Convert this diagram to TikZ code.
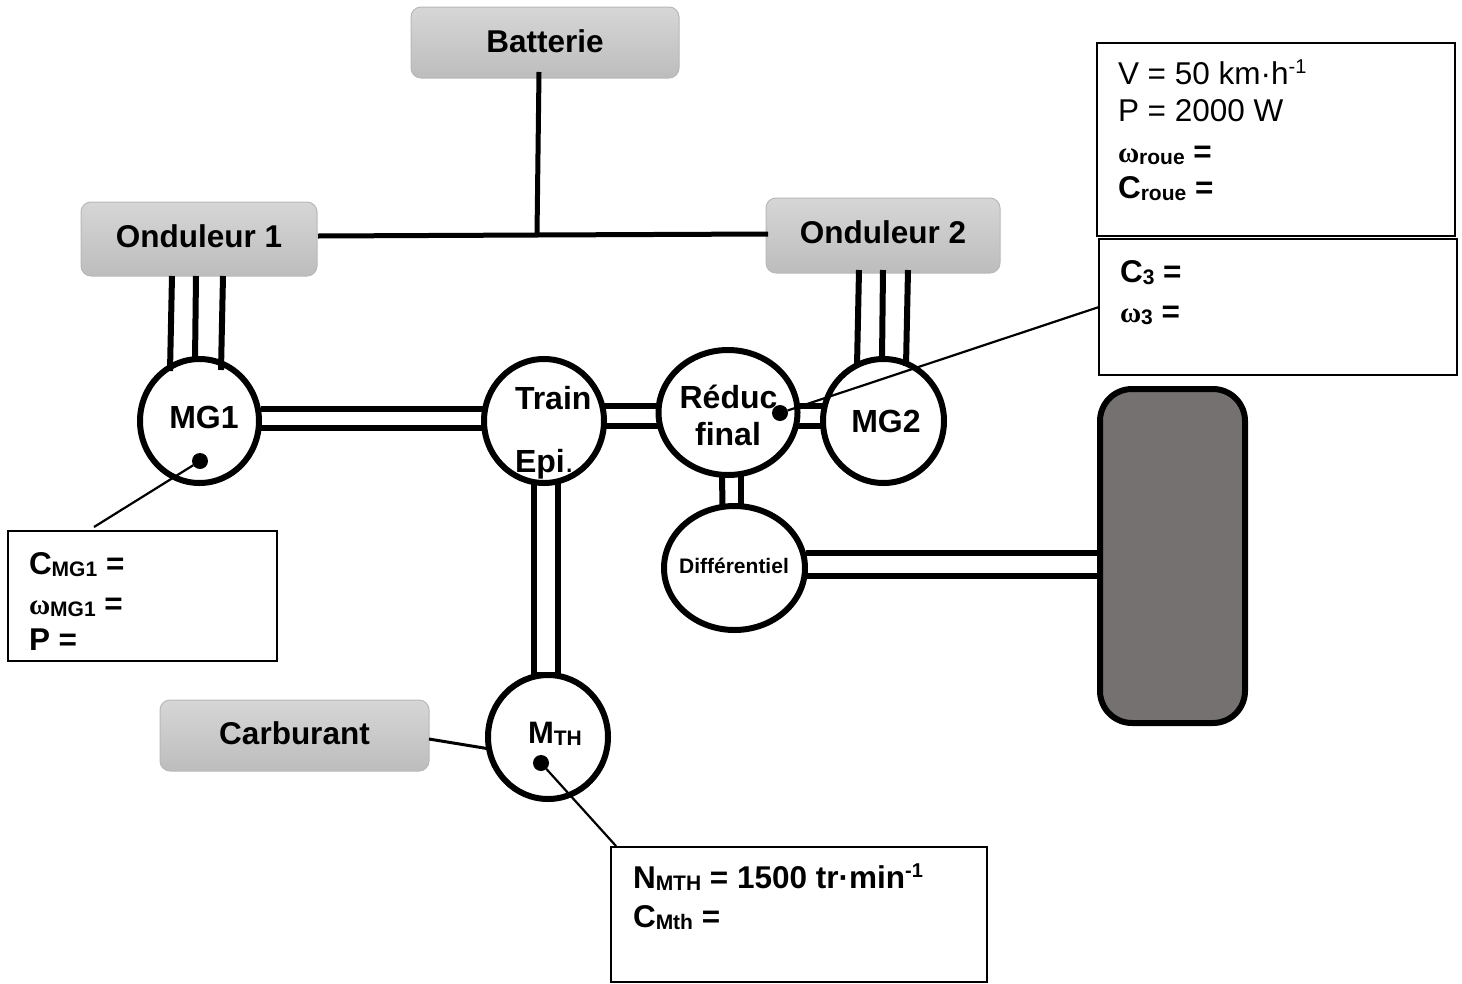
\documentclass[tikz,border=0pt]{standalone}
\usepackage{fontspec}
\usetikzlibrary{shapes.geometric}
\setmainfont{Liberation Sans}
\newfontfamily\omgfont{Liberation Serif}
\definecolor{tyregray}{HTML}{767171}
\newcommand{\mainsize}{\fontsize{31.5}{36}\selectfont}
\newcommand{\labsize}{\fontsize{32}{32}\selectfont}
\newcommand{\subt}[1]{{\fontsize{21}{21}\selectfont\raisebox{-2pt}{#1}}}
\newcommand{\sprt}[1]{{\fontsize{20}{20}\selectfont\raisebox{11pt}{#1}}}
\newcommand{\omgt}{{\omgfont\fontsize{29}{29}\selectfont\bfseries ω}}
\tikzset{
  x=1pt,y=-1pt,
  powerbox/.style={rectangle,rounded corners=10pt,draw=black!28,line width=1pt,top color=black!16,bottom color=black!26,
    outer sep=0pt,inner sep=0pt,font=\mainsize\bfseries},
  machine/.style={ellipse,draw=black,line width=6pt,fill=white,outer sep=0pt,inner sep=0pt},
  infobox/.style={rectangle,draw=black,line width=2.5pt,fill=white,outer sep=0pt,inner sep=0pt},
  tyre/.style={rectangle,rounded corners=32pt,draw=black,line width=6pt,fill=tyregray,outer sep=0pt,inner sep=0pt},
  pin/.style={circle,fill=black,minimum size=16pt,inner sep=0pt,outer sep=0pt},
  txt/.style={anchor=base west,inner sep=0pt,outer sep=0pt,font=\mainsize},
  btxt/.style={anchor=base west,inner sep=0pt,outer sep=0pt,font=\mainsize\bfseries},
  ctxt/.style={anchor=base,inner sep=0pt,outer sep=0pt,font=\mainsize\bfseries},
  shaft/.style={draw=black,line width=6pt},
  wire/.style={draw=black,line width=6pt},
  bus/.style={draw=black,line width=5pt},
  lead/.style={draw=black,line width=2.2pt},
  fuel/.style={draw=black,line width=3pt}
}
\begin{document}
\begin{tikzpicture}
\useasboundingbox (0,0) rectangle (1462,983);
% boxes
\node[powerbox,minimum width=268pt,minimum height=71pt] (batt) at (545,42.5) {\raisebox{3.5pt}{Batterie}};
\node[powerbox,minimum width=236pt,minimum height=74pt] (ond1) at (199,239) {\raisebox{6pt}{Onduleur 1}};
\node[powerbox,minimum width=234pt,minimum height=75pt] (ond2) at (883,235.5) {\raisebox{6pt}{Onduleur 2}};
\node[powerbox,minimum width=269pt,minimum height=71pt] (carb) at (294.5,735.5) {\raisebox{4pt}{Carburant}};
\node[infobox,minimum width=358pt,minimum height=193pt] (vbox) at (1276,139.5) {};
\node[infobox,minimum width=358pt,minimum height=136pt] (cbox) at (1278,307) {};
\node[infobox,minimum width=269pt,minimum height=130pt] (mbox) at (142.5,596) {};
\node[infobox,minimum width=376pt,minimum height=135pt] (nbox) at (799,914.5) {};
% coordinates of free ends
\coordinate (junction) at (537,235);
\coordinate (mlead) at (94,527);
% power lines
\draw[bus] ([shift={(1,-3)}]ond1.east) -- (junction) -- ([shift={(2,-1.5)}]ond2.west);
\draw[bus] ([shift={(-6,-6)}]batt.south) -- (junction);
% machines
\node[machine,minimum width=119pt,minimum height=124pt] (mg1) at (199.5,421) {};
\node[machine,minimum width=120pt,minimum height=124pt] (train) at (544,421) {};
\node[machine,minimum width=139pt,minimum height=125pt] (reduc) at (728,412.5) {};
\node[machine,minimum width=121pt,minimum height=124pt] (mg2) at (883.5,421) {};
\node[machine,minimum width=141pt,minimum height=124pt] (diff) at (734.5,568) {};
\node[machine,minimum width=120pt,minimum height=124pt] (mth) at (548,737) {};
\node[tyre,minimum width=145pt,minimum height=334pt] (wheel) at (1172.5,556) {};
% shafts
\foreach \d in {-12,7}{
  \draw[shaft] ([shift={(61,\d)}]mg1.center) -- ([shift={(-61,\d)}]train.center);}
\foreach \a/\b in {-15/-6.5,5/13.5}{
  \draw[shaft] ([shift={(60,\a)}]train.center) -- ([shift={(-70,\b)}]reduc.center);
  \draw[shaft] ([shift={(70,\b)}]reduc.center) -- ([shift={(-61,\a)}]mg2.center);}
\foreach \a/\b in {-10/-14,14/10}{
  \draw[shaft] ([shift={(\a,62)}]train.center) -- ([shift={(\b,-62)}]mth.center);}
\draw[shaft] ([shift={(-6,63)}]reduc.center) -- ([shift={(-12,-62)}]diff.center);
\draw[shaft] ([shift={(13,63)}]reduc.center) -- ([shift={(6.5,-62)}]diff.center);
\draw[shaft] ([shift={(71,-15)}]diff.center) -- ([shift={(0,-3)}]wheel.west);
\draw[shaft] ([shift={(71,8)}]diff.center) -- ([shift={(0,20)}]wheel.west);
\draw[shaft] ([shift={(-16,-62)}]mth.center) -- ([shift={(12,-62)}]mth.center);
% three-phase wires
\draw[wire] ([shift={(-27,0)}]ond1.south) -- ([shift={(-29.5,12)}]mg1.north);
\draw[wire] ([shift={(-3,0)}]ond1.south) -- ([shift={(-4.5,2)}]mg1.north);
\draw[wire] ([shift={(24,0)}]ond1.south) -- ([shift={(21.5,11)}]mg1.north);
\draw[wire] ([shift={(-24,-3)}]ond2.south) -- ([shift={(-26.5,7)}]mg2.north);
\draw[wire] ([shift={(0,-3)}]ond2.south) -- ([shift={(-1.5,1)}]mg2.north);
\draw[wire] ([shift={(25,-3)}]ond2.south) -- ([shift={(22.5,7)}]mg2.north);
\draw[fuel] ([shift={(0,3.5)}]carb.east) -- ([shift={(2,12)}]mth.west);
% measuring points
\node[pin] (pmg1) at (200,461) {};
\node[pin] (pred) at (780,413) {};
\node[pin] (pmth) at (541,763) {};
\draw[lead] (pmg1) -- (mlead);
\draw[lead] (pred) -- (cbox.west);
\draw[lead] (pmth) -- ([shift={(5,-1)}]nbox.north west);
% machine labels
\node[ctxt,font=\labsize\bfseries] (lmg1) at (204,428) {MG1};
\node[btxt,font=\labsize\bfseries] (ltrain) at (515,409) {Train};
\node[btxt,font=\labsize\bfseries] (lepi) at (515,472) {Epi\textmd{.}};
\node[ctxt,font=\labsize\bfseries] (lred) at (728.5,408) {Réduc};
\node[ctxt,font=\labsize\bfseries] (lfin) at (728,445) {final};
\node[ctxt,font=\labsize\bfseries] (lmg2) at (886,432) {MG2};
\node[ctxt,font=\fontsize{21}{21}\selectfont\bfseries] (ldif) at (734,573) {Différentiel};
\node[btxt,font=\fontsize{31}{31}\selectfont\bfseries] (lmth) at (528,743) {M\subt{TH}};
% information
\node[txt] (t1) at (1118,84) {V = 50 km·h\sprt{-1}};
\node[txt] (t2) at (1118,121) {P = 2000 W};
\node[btxt] (t3) at (1118,162) {\omgt\subt{roue} =};
\node[btxt] (t4) at (1118,198) {C\subt{roue} =};
\node[btxt] (t5) at (1120,282) {C\subt{3} =};
\node[btxt] (t6) at (1120,322) {\omgt\subt{3} =};
\node[btxt] (t7) at (29,574) {C\subt{MG1} =};
\node[btxt] (t8) at (29,614) {\omgt\subt{MG1} =};
\node[btxt] (t9) at (29,650) {P =};
\node[btxt] (t10) at (633,888) {N\subt{MTH} = 1500 tr·min\sprt{-1}};
\node[btxt] (t11) at (633,927) {C\subt{Mth} =};
\end{tikzpicture}
\end{document}
